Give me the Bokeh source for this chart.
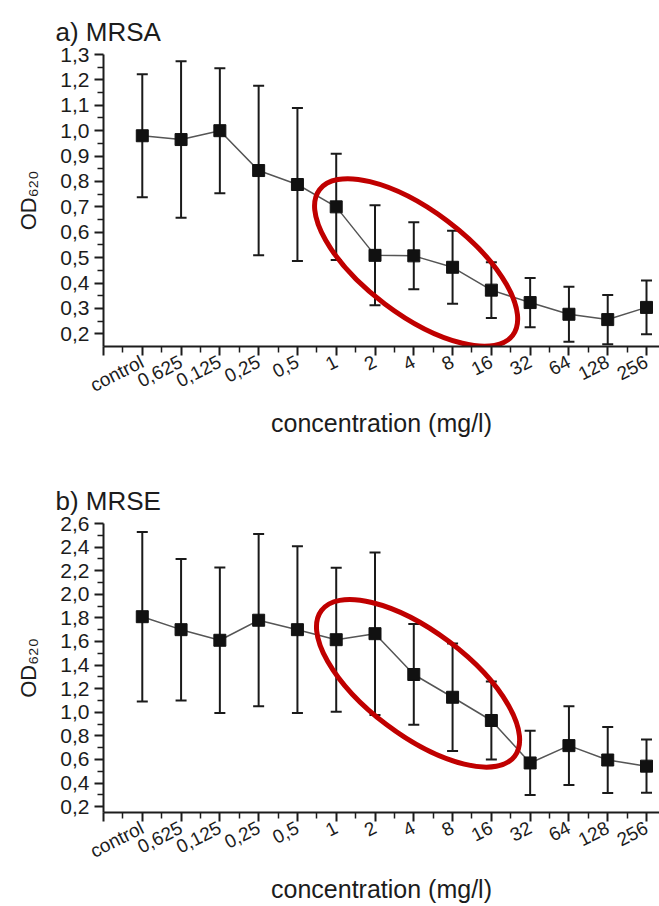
import math
from bokeh.plotting import figure
from bokeh.models import (Range1d, FixedTicker, CustomJSTickFormatter, Whisker,
                          TeeHead, ColumnDataSource)
from bokeh.layouts import column
from bokeh.embed import file_html
from bokeh.resources import INLINE

# ---------------- data ----------------
categories = ["control", "0,625", "0,125", "0,25", "0,5", "1", "2", "4",
              "8", "16", "32", "64", "128", "256"]

mrsa_mean = [0.98, 0.965, 1.00, 0.843, 0.788, 0.70, 0.509, 0.507, 0.462,
             0.372, 0.323, 0.277, 0.256, 0.304]
mrsa_sd = [0.242, 0.308, 0.246, 0.334, 0.301, 0.209, 0.197, 0.132, 0.144,
           0.110, 0.097, 0.108, 0.097, 0.106]

mrse_mean = [1.81, 1.70, 1.61, 1.78, 1.70, 1.615, 1.666, 1.32, 1.127,
             0.93, 0.57, 0.717, 0.595, 0.543]
mrse_sd = [0.719, 0.60, 0.617, 0.73, 0.707, 0.61, 0.689, 0.427, 0.456,
           0.331, 0.272, 0.333, 0.28, 0.226]

FONT = "Liberation Sans"
TXT = "#1c1c1c"
RED = "#C00000"

WIDTH = 659
BORDER_LEFT = 103
X_START, X_END = -1, 13.335


def make_panel(title, mean, sd, y_lo, y_hi, major_step, height,
               border_top, border_bottom, ell_x, ell_y, title_standoff):
    n = len(categories)
    xs = list(range(n))

    p = figure(width=WIDTH, height=height, x_range=Range1d(X_START, X_END),
               y_range=Range1d(y_lo, y_hi), output_backend="svg",
               toolbar_location=None, min_border_left=BORDER_LEFT,
               min_border_right=0, min_border_top=border_top,
               min_border_bottom=border_bottom)
    p.grid.visible = False
    p.outline_line_color = None

    # title above the frame
    p.title.text = title
    p.title.align = "left"
    p.title.vertical_align = "top"
    p.title.offset = -48
    p.title.standoff = title_standoff
    p.title.text_font = FONT
    p.title.text_font_size = "26px"
    p.title.text_font_style = "normal"
    p.title.text_color = TXT

    # axes
    nmaj = int(round((y_hi - 0.2) / major_step)) + 1
    ymaj = [round(0.2 + major_step * i, 3) for i in range(nmaj)]
    ymin_t = [round(0.2 - major_step / 2 + major_step * i, 3) for i in range(nmaj)]
    ymin_t = [t for t in ymin_t if t > y_lo + 1e-6]
    p.yaxis.ticker = FixedTicker(ticks=ymaj, minor_ticks=ymin_t)
    p.yaxis.formatter = CustomJSTickFormatter(
        code="return tick.toFixed(1).replace('.', ',');")
    p.xaxis.ticker = FixedTicker(ticks=list(range(-1, n)),
                                 minor_ticks=[i + 0.5 for i in range(-1, n - 1)])
    p.xaxis.formatter = CustomJSTickFormatter(
        args=dict(labels=categories),
        code="const i = Math.round(tick); return (i >= 0 && i < labels.length) ? labels[i] : '';")
    p.xaxis.major_label_orientation = math.radians(27)

    for ax in (p.xaxis, p.yaxis):
        ax.axis_line_width = 2
        ax.axis_line_color = TXT
        ax.major_tick_in = 0
        ax.major_tick_out = 9
        ax.minor_tick_in = 0
        ax.minor_tick_out = 6
        ax.major_tick_line_width = 2
        ax.minor_tick_line_width = 1.5
        ax.major_tick_line_color = TXT
        ax.minor_tick_line_color = TXT
        ax.major_label_text_font = FONT
        ax.major_label_text_color = TXT
        ax.major_label_standoff = 5
        ax.axis_label_text_font = FONT
        ax.axis_label_text_font_style = "normal"
        ax.axis_label_text_color = TXT
    p.yaxis.major_label_text_font_size = "21px"
    p.xaxis.major_label_text_font_size = "19px"
    p.xaxis.axis_label = "concentration (mg/l)"
    p.xaxis.axis_label_text_font_size = "25px"
    p.xaxis.axis_label_standoff = 1
    p.yaxis.axis_label = "OD\u2086\u2082\u2080"
    p.yaxis.axis_label_text_font_size = "22px"
    p.yaxis.axis_label_standoff = 16

    # data
    lower = [m - s for m, s in zip(mean, sd)]
    upper = [m + s for m, s in zip(mean, sd)]
    src = ColumnDataSource(dict(x=xs, mean=mean, lower=lower, upper=upper))
    p.add_layout(Whisker(source=src, base="x", upper="upper", lower="lower",
                         line_color="#1a1a1a", line_width=2,
                         upper_head=TeeHead(size=11, line_width=2, line_color="#1a1a1a"),
                         lower_head=TeeHead(size=11, line_width=2, line_color="#1a1a1a")))
    p.line("x", "mean", source=src, line_color="#555555", line_width=1.5)
    p.scatter("x", "mean", source=src, marker="square", size=12,
              fill_color="#111111", line_color="#111111")

    # red highlight ellipse
    p.ellipse(x=[ell_x], y=[ell_y], width=242, height=104,
              width_units="screen", height_units="screen",
              angle=-math.radians(37), fill_color=None, line_color=RED,
              line_width=5)
    return p


pa = make_panel("a) MRSA", mrsa_mean, mrsa_sd, 0.15, 1.3, 0.1,
                height=460, border_top=54, border_bottom=114,
                ell_x=7.06, ell_y=0.481, title_standoff=12)
pb = make_panel("b) MRSE", mrse_mean, mrse_sd, 0.15, 2.6, 0.2,
                height=446, border_top=63, border_bottom=90,
                ell_x=7.11, ell_y=1.245, title_standoff=12)

layout = column(pa, pb)
open("out.html", "w").write(file_html(layout, INLINE))
